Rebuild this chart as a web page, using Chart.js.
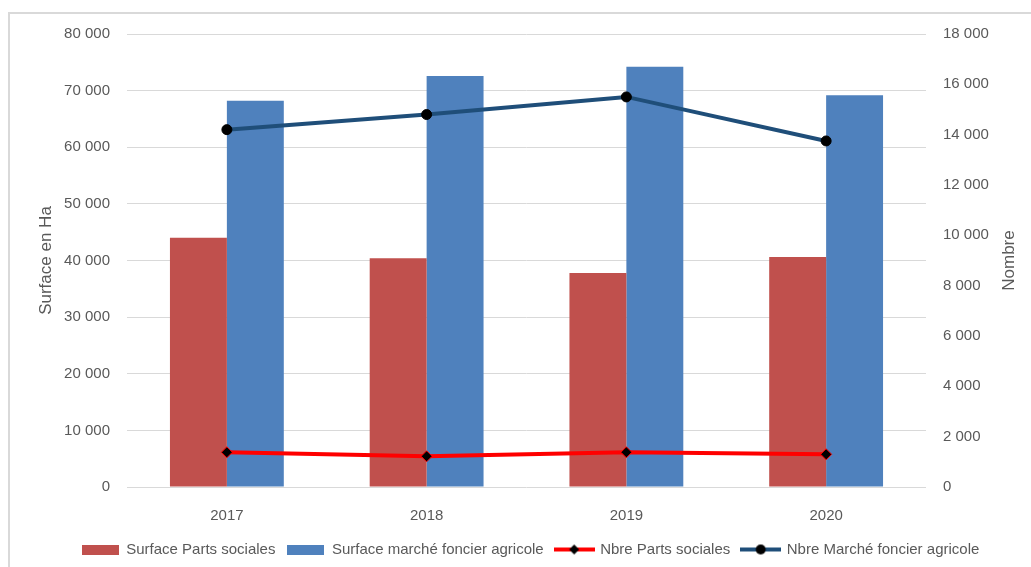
<!DOCTYPE html>
<html lang="fr">
<head>
<meta charset="UTF-8">
<title>Marché foncier agricole</title>
<script src="https://cdn.jsdelivr.net/npm/chart.js"></script>
<style>
  html, body { margin: 0; padding: 0; background: #fff; overflow: hidden; }
  #graph { position: absolute; left: 0; top: 0; }
  .cadre {
    position: absolute; left: 8px; top: 12px;
    width: 1100px; height: 700px;
    border: 2px solid #d9d9d9; box-sizing: border-box;
    pointer-events: none;
  }
</style>
</head>
<body>
<canvas id="graph" width="1031" height="567"></canvas>
<div class="cadre"></div>
<script>
  const annees = ['2017', '2018', '2019', '2020'];
  const surfacePartsSociales = [44000, 40400, 37800, 40600];
  const surfaceMarcheFoncier = [68200, 72600, 74200, 69200];
  const nbrePartsSociales = [1380, 1220, 1380, 1300];
  const nbreMarcheFoncier = [14200, 14800, 15500, 13750];

  const POLICE = '"Liberation Sans", Arial, sans-serif';
  const GRIS = '#595959';

  // 80000 -> "80 000"
  const milliers = v => String(v).replace(/\B(?=(\d{3})+(?!\d))/g, ' ');

  // petites vignettes pour la légende
  function vignette(ds) {
    const c = document.createElement('canvas');
    const ctx = c.getContext('2d');
    if (ds.type === 'line') {
      c.width = 41; c.height = 12;
      ctx.strokeStyle = ds.borderColor;
      ctx.lineWidth = 4;
      ctx.beginPath(); ctx.moveTo(0, 6); ctx.lineTo(41, 6); ctx.stroke();
      ctx.fillStyle = '#000';
      ctx.beginPath();
      if (ds.pointStyle === 'rectRot') {
        ctx.moveTo(20.5, 1); ctx.lineTo(25.5, 6); ctx.lineTo(20.5, 11); ctx.lineTo(15.5, 6);
      } else {
        ctx.arc(20.5, 6, 5, 0, Math.PI * 2);
      }
      ctx.closePath(); ctx.fill();
    } else {
      c.width = 37; c.height = 10;
      ctx.fillStyle = ds.backgroundColor;
      ctx.fillRect(0, 0, 37, 10);
    }
    return c;
  }

  // titre de l'axe de droite, lu de bas en haut
  const titreDroite = {
    id: 'titreDroite',
    afterDraw(chart) {
      const { ctx, chartArea, scales } = chart;
      ctx.save();
      ctx.translate(scales.y1.right - 22, (chartArea.top + chartArea.bottom) / 2);
      ctx.rotate(-Math.PI / 2);
      ctx.font = '17px ' + POLICE;
      ctx.fillStyle = GRIS;
      ctx.textAlign = 'center';
      ctx.textBaseline = 'middle';
      ctx.fillText('Nombre', 0, 0);
      ctx.restore();
    }
  };

  new Chart(document.getElementById('graph'), {
    data: {
      labels: annees,
      datasets: [
        {
          type: 'bar', label: 'Surface Parts sociales', data: surfacePartsSociales,
          backgroundColor: '#c0504d', yAxisID: 'y', order: 2,
          barPercentage: 1, categoryPercentage: 0.57
        },
        {
          type: 'bar', label: 'Surface marché foncier agricole', data: surfaceMarcheFoncier,
          backgroundColor: '#4f81bd', yAxisID: 'y', order: 2,
          barPercentage: 1, categoryPercentage: 0.57
        },
        {
          type: 'line', label: 'Nbre Parts sociales', data: nbrePartsSociales,
          borderColor: '#ff0000', borderWidth: 4, yAxisID: 'y1', order: 1,
          pointStyle: 'rectRot', pointRadius: 5.5, pointBackgroundColor: '#000',
          pointBorderColor: '#ff0000', pointBorderWidth: 1, tension: 0
        },
        {
          type: 'line', label: 'Nbre Marché foncier agricole', data: nbreMarcheFoncier,
          borderColor: '#1f4e79', borderWidth: 4, yAxisID: 'y1', order: 0,
          pointStyle: 'circle', pointRadius: 5, pointBackgroundColor: '#000',
          pointBorderColor: '#000', pointBorderWidth: 1, tension: 0
        }
      ]
    },
    options: {
      responsive: false,
      animation: false,
      layout: { padding: { top: 34, left: 30, right: 0, bottom: 0 } },
      plugins: {
        tooltip: { enabled: false },
        legend: {
          position: 'bottom',
          labels: {
            usePointStyle: true,
            pointStyleWidth: 37,
            padding: 12,
            color: GRIS,
            font: { family: POLICE, size: 15 },
            generateLabels(chart) {
              return chart.data.datasets.map((ds, i) => ({
                text: ds.label,
                pointStyle: vignette(ds),
                fillStyle: ds.backgroundColor || ds.borderColor,
                strokeStyle: ds.borderColor || ds.backgroundColor,
                lineWidth: 0,
                hidden: false,
                fontColor: GRIS,
                datasetIndex: i
              }));
            }
          }
        }
      },
      scales: {
        x: {
          grid: { display: false },
          border: { display: false },
          ticks: { color: GRIS, font: { family: POLICE, size: 15 }, padding: 12 },
          afterFit(s) { s.height = 43; }
        },
        y: {
          position: 'left',
          min: 0, max: 80000,
          ticks: { stepSize: 10000, color: GRIS, font: { family: POLICE, size: 15 }, padding: 17, callback: milliers },
          grid: { color: '#d9d9d9', lineWidth: 1, drawTicks: false },
          border: { display: false },
          title: { display: true, text: 'Surface en Ha', color: GRIS, font: { family: POLICE, size: 17 }, padding: { top: 6, bottom: 0 } },
          afterFit(s) { s.width = 97; }
        },
        y1: {
          position: 'right',
          min: 0, max: 18000,
          ticks: { stepSize: 2000, color: GRIS, font: { family: POLICE, size: 15 }, padding: 17, callback: milliers },
          grid: { display: false, drawTicks: false },
          border: { display: false },
          afterFit(s) { s.width = 105; }
        }
      }
    },
    plugins: [titreDroite]
  });
</script>
</body>
</html>
